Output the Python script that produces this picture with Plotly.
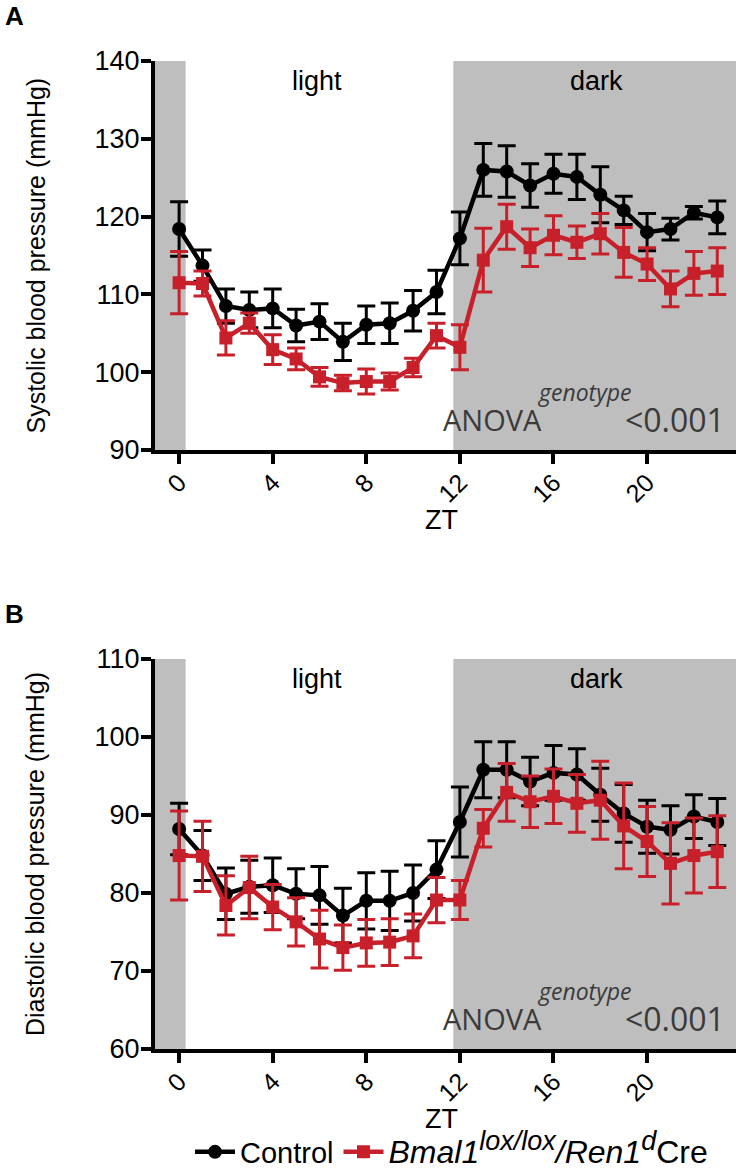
import plotly.graph_objects as go

# ---------------- data ----------------
zt = list(range(24))

sys_control = [118.4, 113.7, 108.5, 108.0, 108.2, 106.0, 106.5, 103.9, 106.1, 106.3, 107.9, 110.3,
               117.2, 126.0, 125.8, 124.0, 125.5, 125.1, 122.8, 120.8, 118.0, 118.4, 120.5, 119.9]
sys_control_err = [3.5, 2.0, 2.2, 2.3, 2.5, 2.1, 2.3, 2.4, 2.4, 2.6, 2.6, 2.8,
                   3.4, 3.4, 3.3, 2.8, 2.5, 2.9, 3.6, 1.8, 2.4, 1.4, 0.8, 2.1]
sys_ko = [111.5, 111.4, 104.4, 106.3, 102.9, 101.7, 99.4, 98.6, 98.8, 98.8, 100.6, 104.7,
          103.2, 114.4, 118.7, 116.0, 117.6, 116.7, 117.8, 115.4, 113.9, 110.7, 112.7, 113.0]
sys_ko_err = [4.0, 1.6, 2.2, 1.3, 1.9, 1.4, 1.2, 1.0, 1.6, 1.1, 1.2, 1.6,
              2.9, 4.1, 2.9, 2.4, 2.5, 2.1, 2.6, 3.2, 2.1, 2.3, 2.8, 3.0]

dia_control = [88.2, 84.8, 79.9, 80.8, 81.0, 79.9, 79.7, 77.1, 79.0, 79.0, 80.0, 83.0,
               89.1, 95.8, 95.8, 94.3, 95.4, 95.2, 92.6, 90.2, 88.5, 88.1, 89.8, 89.1]
dia_control_err = [3.3, 3.2, 3.3, 3.4, 3.5, 3.2, 3.7, 3.5, 3.6, 3.8, 3.6, 3.7,
                   4.5, 3.6, 3.6, 3.1, 3.5, 3.3, 3.4, 3.7, 3.4, 3.1, 2.8, 3.0]
dia_ko = [84.8, 84.7, 78.4, 80.7, 78.2, 76.3, 74.1, 73.0, 73.6, 73.7, 74.5, 79.1,
          79.1, 88.3, 92.9, 91.7, 92.4, 91.5, 91.9, 88.6, 86.6, 83.8, 84.8, 85.3]
dia_ko_err = [5.7, 4.5, 3.8, 4.0, 2.9, 3.1, 3.7, 2.9, 3.0, 3.0, 2.8, 2.9,
              2.5, 2.4, 3.7, 3.3, 3.5, 3.7, 5.0, 5.5, 4.5, 5.2, 4.8, 4.6]

x_ticks = [0, 4, 8, 12, 16, 20]
sys_ticks = [90, 100, 110, 120, 130, 140]
dia_ticks = [60, 70, 80, 90, 100, 110]

light_band = (-1.03, 0.28)
dark_band = (11.72, 23.8)

series_names = [
    "Control",
    "<span style='font-size:32px'><i>Bmal1</i><sup><i><span style='font-size:27px'>lox/lox</span></i></sup>"
    "<i>/Ren1</i><sup><i><span style='font-size:27px'>d</span></i></sup>Cre</span>",
]

# ---------------- style ----------------
W, H = 736, 1170
BLACK = "#000000"
RED = "#C8202A"
GREY = "#BEBEBE"
TXT_GREY = "#3a3a3a"
FONT = "Liberation Sans, Arial, sans-serif"

def px(x):
    return x / W

def py(y):
    return 1 - y / H

fig = go.Figure()

panels = [
    dict(yr=[90, 140], ticks=sys_ticks, top=61, bot=450,
         c=sys_control, ce=sys_control_err, k=sys_ko, ke=sys_ko_err,
         title="Systolic blood pressure (mmHg)", letter="A"),
    dict(yr=[60, 110], ticks=dia_ticks, top=659, bot=1049,
         c=dia_control, ce=dia_control_err, k=dia_ko, ke=dia_ko_err,
         title="Diastolic blood pressure (mmHg)", letter="B"),
]

for i, p in enumerate(panels):
    suffix = "" if i == 0 else "2"
    show = (i == 0)
    fig.add_trace(go.Scatter(
        x=zt, y=p["c"], xaxis="x" + suffix, yaxis="y" + suffix, mode="lines+markers",
        name=series_names[0], showlegend=show, legendgroup="c",
        line=dict(color=BLACK, width=4.5),
        marker=dict(symbol="circle", size=14, color=BLACK),
        error_y=dict(type="data", array=p["ce"], visible=True, color=BLACK, thickness=3, width=9)))
    fig.add_trace(go.Scatter(
        x=zt, y=p["k"], xaxis="x" + suffix, yaxis="y" + suffix, mode="lines+markers",
        name=series_names[1], showlegend=show, legendgroup="k",
        line=dict(color=RED, width=4.5),
        marker=dict(symbol="square", size=13, color=RED),
        error_y=dict(type="data", array=p["ke"], visible=True, color=RED, thickness=3, width=9)))

axis_common = dict(
    showline=True, linecolor=BLACK, linewidth=4, ticks="outside", ticklen=10, tickwidth=4,
    tickcolor=BLACK, showgrid=False, zeroline=False, mirror=False, automargin=False,
    tickfont=dict(family=FONT, size=27, color=BLACK),
)

x_dom = [px(155), 1.0]
layout_axes = {}
for i, p in enumerate(panels):
    suffix = "" if i == 0 else "2"
    layout_axes["xaxis" + suffix] = dict(
        axis_common, domain=x_dom, range=[light_band[0], dark_band[1]],
        tickvals=x_ticks, tickangle=-45, anchor="y" + suffix, ticklabelstandoff=-6,
        tickfont=dict(family=FONT, size=25, color=BLACK))
    layout_axes["yaxis" + suffix] = dict(
        axis_common, domain=[py(p["bot"]), py(p["top"])], range=p["yr"],
        tickvals=p["ticks"], anchor="x" + suffix, ticklabelstandoff=-4)

shapes = []
annotations = []

def note(text, x, y, size, color=BLACK, family=FONT, xanchor="center", angle=0):
    return dict(text=text, x=px(x), y=py(y), xref="paper", yref="paper",
                xanchor=xanchor, yanchor="middle", textangle=angle, showarrow=False,
                font=dict(family=family, size=size, color=color))

for i, p in enumerate(panels):
    suffix = "" if i == 0 else "2"
    for band in (light_band, dark_band):
        shapes.append(dict(type="rect", xref="x" + suffix, yref="y" + suffix + " domain",
                           x0=band[0], x1=band[1], y0=0, y1=1, fillcolor=GREY,
                           line=dict(width=0), layer="below"))
    top, bot = p["top"], p["bot"]
    annotations += [
        note("light", 317, top + 20, 27),
        note("dark", 596, top + 20, 27),
        note("<i>genotype</i>", 584, bot - 58, 23, TXT_GREY, "Open Sans"),
        note("ANOVA", 492, bot - 31, 29, TXT_GREY, "Open Sans"),
        note("<0.001", 727, bot - 31, 32, TXT_GREY, "Open Sans", xanchor="right"),
        note("ZT", 442, bot + 70, 27),
        note(p["title"], 35, (top + bot) / 2, 25, angle=-90),
        note("<b>" + p["letter"] + "</b>", 14, top - 45, 26),
    ]

fig.update_layout(
    width=W, height=H, margin=dict(l=0, r=0, t=0, b=0, autoexpand=False),
    paper_bgcolor="white", plot_bgcolor="white",
    shapes=shapes, annotations=annotations,
    legend=dict(orientation="h", x=px(190), y=py(1152), xanchor="left", yanchor="middle",
                font=dict(family=FONT, size=29, color=BLACK), itemwidth=40,
                bgcolor="rgba(0,0,0,0)", tracegroupgap=0),
    **layout_axes,
)

fig.write_html("out.html", config={"displayModeBar": False},
               post_script="document.body.style.margin='0';")
